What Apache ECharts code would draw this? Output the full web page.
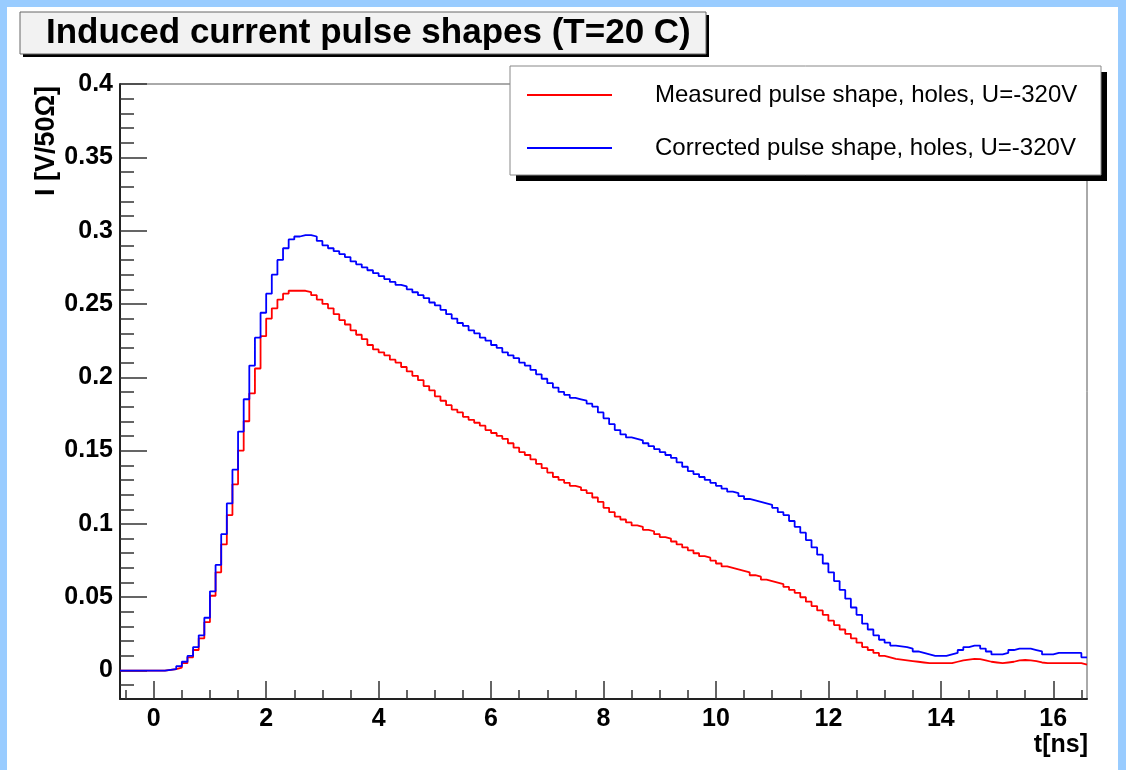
<!DOCTYPE html>
<html>
<head>
<meta charset="utf-8">
<script src="https://cdn.jsdelivr.net/npm/echarts@6/dist/echarts.min.js"></script>
<style>
  html, body { margin: 0; padding: 0; background: #99ccff; }
  #chart { width: 1126px; height: 770px; }
</style>
</head>
<body>
<div id="chart"></div>
<script>
// ---- data ----
const titleText = 'Induced current pulse shapes (T=20 C)';
const seriesNames = ['Measured pulse shape, holes, U=-320V', 'Corrected pulse shape, holes, U=-320V'];
const xAxisName = 't[ns]';
const yAxisName = 'I [V/50\u03A9]';
const binStart = -0.6;   // ns, low edge of first bin
const binWidth = 0.1;    // ns
const xTicks = [0, 2, 4, 6, 8, 10, 12, 14, 16];
const yTicks = [0, 0.05, 0.1, 0.15, 0.2, 0.25, 0.3, 0.35, 0.4];

const measured = [
  0, 0, 0, 0, 0, 0, 0, 0,
  0.0005, 0.001, 0.002, 0.005, 0.009, 0.014, 0.022, 0.033,
  0.051, 0.067, 0.086, 0.106, 0.127, 0.150, 0.170, 0.189,
  0.206, 0.228, 0.240, 0.247, 0.253, 0.257, 0.259, 0.259,
  0.259, 0.258, 0.256, 0.253, 0.250, 0.247, 0.243, 0.239,
  0.236, 0.232, 0.229, 0.226, 0.222, 0.219, 0.217, 0.215,
  0.212, 0.210, 0.207, 0.204, 0.201, 0.198, 0.194, 0.191,
  0.187, 0.184, 0.181, 0.178, 0.176, 0.173, 0.171, 0.169,
  0.167, 0.164, 0.162, 0.160, 0.158, 0.155, 0.152, 0.149,
  0.147, 0.144, 0.141, 0.138, 0.135, 0.132, 0.130, 0.128,
  0.126, 0.125, 0.123, 0.121, 0.118, 0.115, 0.111, 0.108,
  0.105, 0.103, 0.101, 0.099, 0.098, 0.096, 0.095, 0.093,
  0.091, 0.090, 0.088, 0.086, 0.084, 0.082, 0.080, 0.078,
  0.077, 0.075, 0.073, 0.071, 0.070, 0.069, 0.068, 0.067,
  0.065, 0.064, 0.062, 0.061, 0.060, 0.059, 0.057, 0.055,
  0.053, 0.050, 0.047, 0.044, 0.041, 0.038, 0.034, 0.031,
  0.028, 0.025, 0.022, 0.019, 0.016, 0.014, 0.012, 0.010,
  0.009, 0.008, 0.0075, 0.007, 0.0065, 0.006, 0.0055, 0.005,
  0.005, 0.005, 0.005, 0.005, 0.006, 0.007, 0.0075, 0.008,
  0.0078, 0.007, 0.006, 0.0055, 0.005, 0.0055, 0.006, 0.007,
  0.0072, 0.007, 0.0065, 0.0055, 0.005, 0.005, 0.005, 0.005,
  0.005, 0.005, 0.005, 0.004
];

const corrected = [
  0, 0, 0, 0, 0, 0, 0, 0,
  0.0005, 0.001, 0.003, 0.006, 0.010, 0.016, 0.024, 0.036,
  0.054, 0.072, 0.093, 0.114, 0.137, 0.163, 0.185, 0.208,
  0.227, 0.244, 0.257, 0.270, 0.280, 0.288, 0.294, 0.296,
  0.297, 0.297, 0.296, 0.293, 0.290, 0.288, 0.286, 0.284,
  0.282, 0.279, 0.277, 0.275, 0.273, 0.271, 0.269, 0.267,
  0.265, 0.263, 0.262, 0.260, 0.258, 0.256, 0.254, 0.251,
  0.249, 0.246, 0.243, 0.240, 0.237, 0.235, 0.232, 0.230,
  0.227, 0.225, 0.222, 0.220, 0.217, 0.215, 0.213, 0.210,
  0.208, 0.205, 0.202, 0.199, 0.196, 0.193, 0.190, 0.188,
  0.186, 0.185, 0.184, 0.182, 0.180, 0.176, 0.172, 0.168,
  0.164, 0.161, 0.159, 0.158, 0.157, 0.155, 0.153, 0.151,
  0.149, 0.147, 0.145, 0.142, 0.139, 0.136, 0.134, 0.132,
  0.130, 0.128, 0.126, 0.124, 0.122, 0.121, 0.119, 0.117,
  0.116, 0.115, 0.114, 0.113, 0.111, 0.108, 0.106, 0.102,
  0.098, 0.094, 0.089, 0.084, 0.079, 0.073, 0.067, 0.061,
  0.055, 0.049, 0.043, 0.038, 0.032, 0.028, 0.024, 0.021,
  0.019, 0.017, 0.0165, 0.016, 0.015, 0.013, 0.012, 0.011,
  0.010, 0.010, 0.010, 0.011, 0.012, 0.014, 0.016, 0.017,
  0.017, 0.015, 0.013, 0.011, 0.011, 0.012, 0.014, 0.015,
  0.015, 0.015, 0.014, 0.013, 0.011, 0.011, 0.012, 0.012,
  0.012, 0.012, 0.012, 0.009
];

// ---- build histogram step data (low edge of each bin + closing edge) ----
function histData(vals) {
  const d = vals.map((v, i) => [+(binStart + i * binWidth).toFixed(3), v]);
  d.push([+(binStart + vals.length * binWidth).toFixed(3), vals[vals.length - 1]]);
  return d;
}
const xMin = binStart;
const xMax = +(binStart + measured.length * binWidth).toFixed(3);
const yMin = -0.0194, yMax = 0.4;

const xMinorTicks = [];
for (let k = Math.ceil(xMin * 2); k <= Math.floor(xMax * 2); k++) {
  if (k % 4 !== 0) xMinorTicks.push(k / 2);
}
const yMinorTicks = [];
for (let k = Math.ceil(yMin * 100); k <= Math.floor(yMax * 100); k++) {
  if (k % 5 !== 0) yMinorTicks.push(+(k / 100).toFixed(2));
}

const FONT = '"Liberation Sans", Arial, Helvetica, sans-serif';
const chart = echarts.init(document.getElementById('chart'), null, { renderer: 'canvas' });

const option = {
  backgroundColor: '#99ccff',
  animation: false,
  title: {
    text: titleText,
    left: 46, top: 13, padding: 0, z: 8,
    textStyle: { fontSize: 35, fontWeight: 'bold', fontFamily: FONT, color: '#000', lineHeight: 40 }
  },
  graphic: [
    { type: 'rect', z: -100, silent: true, shape: { x: 7, y: 7, width: 1111, height: 770 }, style: { fill: '#ffffff' } },
    { type: 'rect', z: 5, silent: true, shape: { x: 23, y: 15, width: 686, height: 42 }, style: { fill: '#000' } },
    { type: 'rect', z: 5, silent: true, shape: { x: 20, y: 12, width: 686, height: 42 }, style: { fill: '#f2f2f2', stroke: '#666', lineWidth: 1 } },
    { type: 'rect', z: 3, silent: true, shape: { x: 516, y: 72, width: 591, height: 109 }, style: { fill: '#000' } },
    { type: 'rect', z: 3, silent: true, shape: { x: 510, y: 66, width: 591, height: 109 }, style: { fill: '#fff', stroke: '#888', lineWidth: 1 } },
    { type: 'text', z: 5, x: 47, y: 141, rotation: Math.PI / 2,
      style: { text: yAxisName, font: 'bold 27px ' + FONT, fill: '#000', align: 'center', verticalAlign: 'middle' } },
    { type: 'text', z: 5, x: 1088, y: 745,
      style: { text: xAxisName, font: 'bold 25px ' + FONT, fill: '#000', align: 'right', verticalAlign: 'middle' } }
  ],
  legend: {
    orient: 'vertical', left: 527, top: 83, padding: 0,
    itemWidth: 85, itemHeight: 2, itemGap: 29, icon: 'rect',
    textStyle: { fontSize: 24, fontFamily: FONT, color: '#000', lineHeight: 24, padding: [0, 0, 0, 38] },
    data: seriesNames, z: 6
  },
  grid: {
    left: 120, right: 39, top: 84, bottom: 71,
    show: true, borderColor: '#555', borderWidth: 1, backgroundColor: 'transparent'
  },
  xAxis: [
    {
      type: 'value', min: xMin, max: xMax, position: 'bottom',
      axisLine: { show: true, onZero: false, lineStyle: { color: '#222', width: 2 } },
      axisTick: { show: true, inside: true, length: 18, customValues: xTicks, lineStyle: { color: '#333', width: 1.5 } },
      axisLabel: { show: true, customValues: xTicks, margin: 8, fontSize: 25, fontWeight: 'bold', fontFamily: FONT, color: '#000' },
      splitLine: { show: false }
    },
    {
      type: 'value', min: xMin, max: xMax, position: 'bottom', offset: 0,
      axisLine: { show: false, onZero: false },
      axisTick: { show: true, inside: true, length: 9, customValues: xMinorTicks, lineStyle: { color: '#333', width: 1.5 } },
      axisLabel: { show: false },
      splitLine: { show: false }
    }
  ],
  yAxis: [
    {
      type: 'value', min: yMin, max: yMax, position: 'left',
      axisLine: { show: true, onZero: false, lineStyle: { color: '#222', width: 2 } },
      axisTick: { show: true, inside: true, length: 27, customValues: yTicks, lineStyle: { color: '#333', width: 1.5 } },
      axisLabel: { show: true, customValues: yTicks, margin: 7, fontSize: 25, fontWeight: 'bold', fontFamily: FONT, color: '#000' },
      splitLine: { show: false }
    },
    {
      type: 'value', min: yMin, max: yMax, position: 'left', offset: 0,
      axisLine: { show: false, onZero: false },
      axisTick: { show: true, inside: true, length: 14, customValues: yMinorTicks, lineStyle: { color: '#333', width: 1.5 } },
      axisLabel: { show: false },
      splitLine: { show: false }
    }
  ],
  series: [
    {
      name: seriesNames[0], type: 'line', step: 'end', xAxisIndex: 0, yAxisIndex: 0,
      data: histData(measured), showSymbol: false, symbol: 'none', z: 2,
      lineStyle: { color: '#ff0000', width: 1.8 }, itemStyle: { color: '#ff0000' }
    },
    {
      name: seriesNames[1], type: 'line', step: 'end', xAxisIndex: 0, yAxisIndex: 0,
      data: histData(corrected), showSymbol: false, symbol: 'none', z: 2,
      lineStyle: { color: '#0000ff', width: 1.8 }, itemStyle: { color: '#0000ff' }
    }
  ]
};
chart.setOption(option);
</script>
</body>
</html>
